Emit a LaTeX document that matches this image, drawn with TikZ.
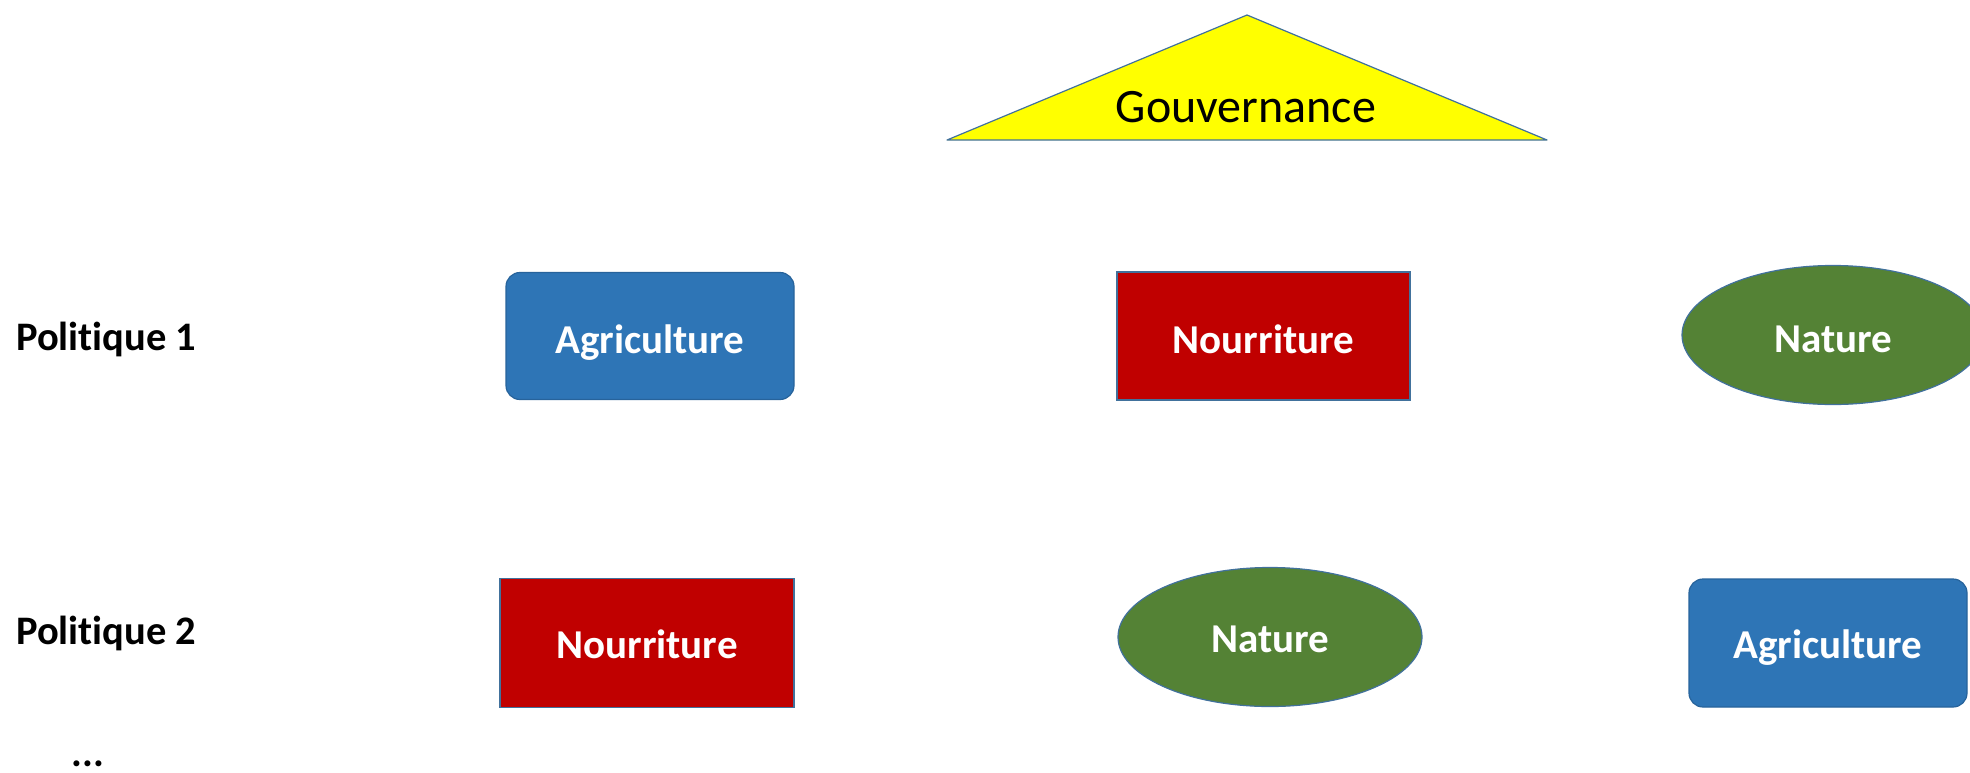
\documentclass[tikz,border=0pt]{standalone}
\usepackage{fontspec}
\setmainfont{Carlito}[Ligatures=NoCommon]
\usetikzlibrary{shapes.geometric}
\definecolor{agblue}{HTML}{2E75B6}
\definecolor{nored}{HTML}{C00000}
\definecolor{nagreen}{HTML}{548235}
\definecolor{edgeblue}{HTML}{41719C}
\definecolor{gyellow}{HTML}{FFFF00}
\tikzset{
  lbl/.style={font=\fontsize{41}{49}\selectfont\bfseries, text height=34pt, text depth=0pt, inner sep=0pt},
  lbltwo/.style={text height=30.5pt},
  rowlbl/.style={font=\fontsize{40.5}{49}\selectfont\bfseries, inner sep=0pt, anchor=base west, text=black},
  agbox/.style={lbl, rectangle, rounded corners=14pt, fill=agblue, draw=agblue!85!black, line width=1.2pt, text=white, minimum width=288pt, minimum height=127pt},
  nobox/.style={lbl, rectangle, fill=nored, draw=edgeblue, line width=1.2pt, text=white, minimum width=293pt, minimum height=128pt},
  naell/.style={lbl, ellipse, fill=nagreen, draw=edgeblue, line width=1.2pt, text=white, minimum width=302pt, minimum height=139pt},
}
\begin{document}
\begin{tikzpicture}[x=1pt,y=-1pt]
\useasboundingbox (0,0) rectangle (1970,772);
\clip (0,0) rectangle (1970,772);
% Gouvernance triangle
\draw[fill=gyellow, draw=edgeblue, line width=1.2pt, line join=round]
  (947,140) -- (1247,15) -- (1547,140) -- cycle;
\node[font=\fontsize{48}{58}\selectfont, inner sep=0pt, anchor=base] (gouv) at (1246,122) {Gouvernance};
% row labels
\node[rowlbl] (p1) at (16,350) {Politique 1};
\node[rowlbl] (p2) at (16,644) {Politique 2};
\node[rowlbl, anchor=base] (dots) at (88,766) {...};
% row 1
\node[agbox] (ag1) at (650,336) {Agriculture};
\node[nobox] (no1) at (1263.5,336) {Nourriture};
\node[naell] (na1) at (1833,335) {Nature};
% row 2
\node[nobox, lbltwo, minimum width=294pt, minimum height=129pt] (no2) at (647,643) {Nourriture};
\node[naell, lbltwo, minimum width=304pt] (na2) at (1270,637) {Nature};
\node[agbox, lbltwo, minimum width=278pt, minimum height=128pt] (ag2) at (1828,643) {Agriculture};
\end{tikzpicture}
\end{document}
